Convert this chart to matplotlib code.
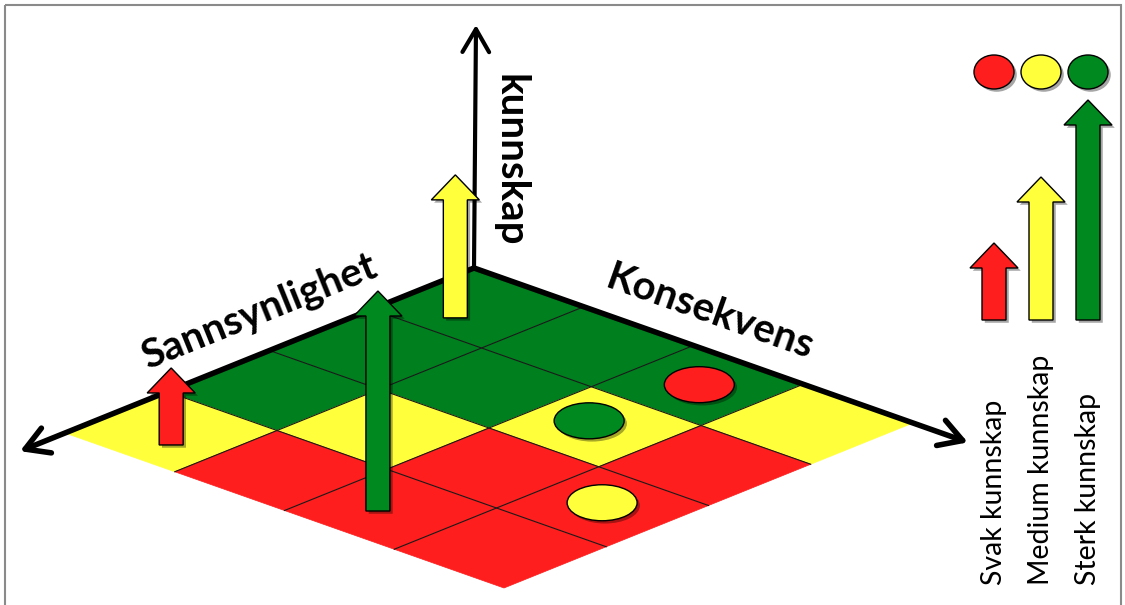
import matplotlib
matplotlib.use("Agg")
from matplotlib import pyplot as plt
from matplotlib.patches import Polygon, Ellipse, FancyArrow, Rectangle
import matplotlib.patheffects as pe
import numpy as np

# risk matrix: rows = sannsynlighet (0 = nearest the origin), cols = konsekvens
cell_colors = [
    ["G", "G", "G", "Y"],
    ["G", "G", "Y", "R"],
    ["G", "Y", "R", "R"],
    ["Y", "R", "R", "R"],
]

# events drawn as discs: (konsekvens, sannsynlighet) on the 0..4 grid
disc_konsekvens = [2.5, 2.4, 3.45]
disc_sannsynlighet = [0.48, 1.45, 2.45]
disc_level = ["R", "G", "Y"]

# events drawn as arrows: height = strength of knowledge
arrow_konsekvens = [0.66, 2.46, 0.51]
arrow_sannsynlighet = [3.67, 3.58, 0.73]
arrow_level = ["R", "G", "Y"]

# legend
levels = ["R", "Y", "G"]
level_names = ["Svak kunnskap", "Medium kunnskap", "Sterk kunnskap"]
strength = {"R": 0.35, "Y": 0.65, "G": 1.0}

grid_fill = {"G": "#007F1E", "Y": "#FFFF3C", "R": "#FE1E1E"}
mark_fill = {"G": "#00891E", "Y": "#FFFF3C", "R": "#FE1E1E"}

T = np.array([474.0, 268.0])   # origin of the floor
R = np.array([913.0, 423.0])   # end of konsekvens edge
L = np.array([65.0, 433.0])    # end of sannsynlighet edge
KUNNSKAP_LEN = 220


def proj(u, v):
    return T + (R - T) * u / 4 + (L - T) * v / 4


plt.rcParams["font.family"] = ["Lato", "DejaVu Sans"]
fig = plt.figure(figsize=(11.25, 6.05), dpi=100)
ax = fig.add_axes([0, 0, 1, 1])
ax.set_xlim(0, 1125)
ax.set_ylim(605, 0)
ax.axis("off")

ax.add_patch(Rectangle((5, 5), 1116, 610, fill=False, ec="#8a8a8a", lw=1.5, zorder=0))

shadow = [pe.SimplePatchShadow(offset=(2, -2), shadow_rgbFace="k", alpha=0.35), pe.Normal()]

# floor
for j, row in enumerate(cell_colors):
    for i, c in enumerate(row):
        pts = [proj(i, j), proj(i + 1, j), proj(i + 1, j + 1), proj(i, j + 1)]
        ax.add_patch(Polygon(pts, closed=True, fc=grid_fill[c], ec=grid_fill[c], lw=0.5, zorder=1))
for k in range(1, 4):
    a, b = proj(k, 0), proj(k, 4)
    ax.plot([a[0], b[0]], [a[1], b[1]], color="#1a1a1a", lw=0.8, zorder=2)
    a, b = proj(0, k), proj(4, k)
    ax.plot([a[0], b[0]], [a[1], b[1]], color="#1a1a1a", lw=0.8, zorder=2)

# axes
head = "->,head_length=0.55,head_width=0.32"
for end, lw in [(T + (L - T) * 1.11, 4), (T + (R - T) * 1.125, 4), (np.array([T[0] + 2, 25]), 3)]:
    ax.annotate("", xy=end, xytext=T,
                arrowprops=dict(arrowstyle=head, lw=lw, color="k", mutation_scale=30,
                                shrinkA=0, shrinkB=0), zorder=3)

ax.text(259, 312, "Sannsynlighet", rotation=22, rotation_mode="anchor", ha="center", va="center",
        fontsize=29, fontweight="bold", zorder=6)
ax.text(710, 312, "Konsekvens", rotation=-19.5, rotation_mode="anchor", ha="center", va="center",
        fontsize=29, fontweight="bold", zorder=6)
ax.text(510, 160, "kunnskap", rotation=-90, rotation_mode="anchor", ha="center", va="center",
        fontsize=29, fontweight="bold", zorder=6)

# discs on the floor
for u, v, lv in zip(disc_konsekvens, disc_sannsynlighet, disc_level):
    x, y = proj(u, v)
    e = Ellipse((x, y), 70, 36, fc=mark_fill[lv], ec="k", lw=1.0, zorder=4)
    e.set_path_effects(shadow)
    ax.add_patch(e)


def block_arrow(x, y, length, color):
    a = FancyArrow(x, y, 0, -length, width=24, head_width=48, head_length=25,
                   length_includes_head=True, fc=color, ec="k", lw=1.0, zorder=5)
    a.set_path_effects(shadow)
    ax.add_patch(a)


for u, v, lv in zip(arrow_konsekvens, arrow_sannsynlighet, arrow_level):
    x, y = proj(u, v)
    block_arrow(x, y, strength[lv] * KUNNSKAP_LEN, mark_fill[lv])

# legend
legend_x = [994, 1041, 1088]
for x, lv, name in zip(legend_x, levels, level_names):
    e = Ellipse((x, 72), 40, 34, fc=mark_fill[lv], ec="k", lw=1.0, zorder=4)
    e.set_path_effects(shadow)
    ax.add_patch(e)
    block_arrow(x, 320, strength[lv] * KUNNSKAP_LEN, mark_fill[lv])
    ax.text(x, 585, name, rotation=90, ha="center", va="bottom", fontsize=20.5, zorder=6)

fig.savefig("out.png", dpi=100)
